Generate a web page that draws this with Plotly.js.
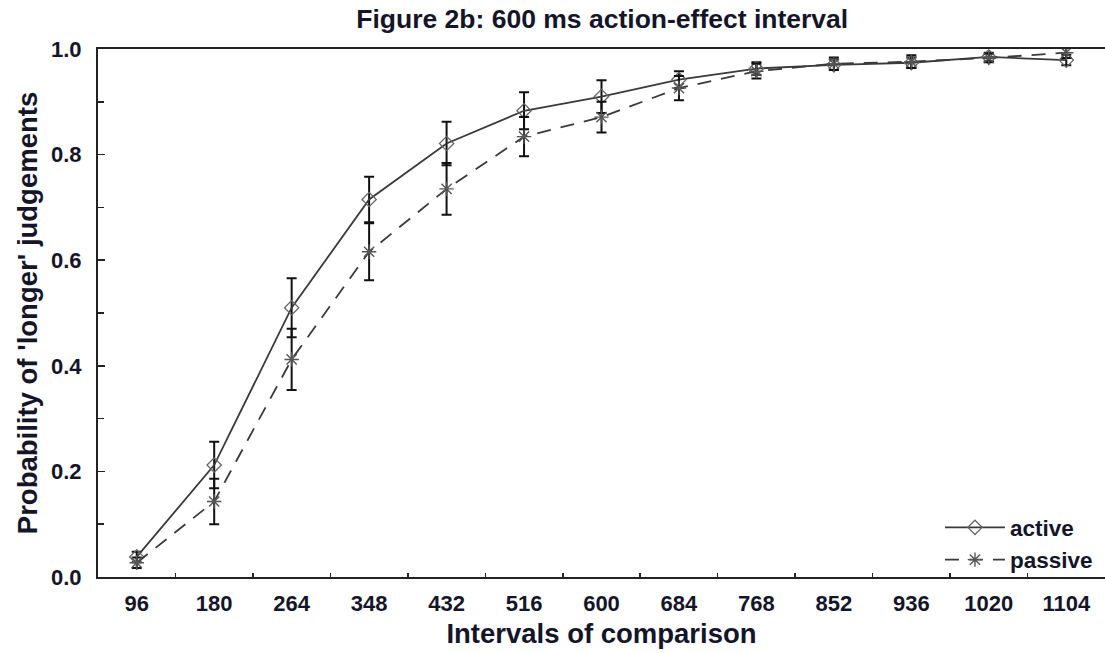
<!DOCTYPE html>
<html>
<head>
<meta charset="utf-8">
<script src="https://cdn.plot.ly/plotly-3.0.1.min.js"></script>
<style>
html, body { margin: 0; padding: 0; overflow: hidden; background: #fff; }
#chart { width: 1105px; height: 653px; }
</style>
</head>
<body>
<div id="chart"></div>
<script>
const intervals = ['96', '180', '264', '348', '432', '516', '600', '684', '768', '852', '936', '1020', '1104'];
const activeMean = [0.038, 0.212, 0.510, 0.715, 0.821, 0.883, 0.910, 0.942, 0.963, 0.970, 0.974, 0.985, 0.979];
const activeErr  = [0.010, 0.044, 0.056, 0.043, 0.041, 0.035, 0.031, 0.016, 0.012, 0.010, 0.010, 0.008, 0.010];
const passiveMean = [0.027, 0.143, 0.412, 0.616, 0.735, 0.834, 0.871, 0.926, 0.958, 0.972, 0.976, 0.983, 0.993];
const passiveErr  = [0.010, 0.043, 0.058, 0.054, 0.049, 0.037, 0.029, 0.023, 0.014, 0.012, 0.012, 0.008, 0.010];

const FONT = 'Liberation Sans, Arial, sans-serif';
const TXT = '#15152a';

const traces = [
  {
    name: 'active', x: intervals, y: activeMean, type: 'scatter', mode: 'lines+markers',
    line: { color: '#3a3a3a', width: 1.8, dash: 'solid' },
    marker: { symbol: 'diamond-open', size: 11, color: '#666', line: { width: 1.3 } },
    error_y: { type: 'data', array: activeErr, visible: true, color: '#111', thickness: 2, width: 5 }
  },
  {
    name: 'passive', x: intervals, y: passiveMean, type: 'scatter', mode: 'lines+markers',
    line: { color: '#3a3a3a', width: 1.8, dash: '14px,10px' },
    marker: { symbol: 'asterisk-open', size: 12, color: '#555', line: { width: 1.4, color: '#555' } },
    error_y: { type: 'data', array: passiveErr, visible: true, color: '#111', thickness: 2, width: 5 }
  }
];

const layout = {
  width: 1105, height: 653,
  margin: { l: 98, r: 0, t: 49, b: 76 },
  paper_bgcolor: '#fff', plot_bgcolor: '#fff',
  font: { family: FONT, color: TXT, size: 22, weight: 'bold' },
  showlegend: true,
  title: {
    text: 'Figure 2b: 600 ms action-effect interval',
    font: { family: FONT, size: 26.5, color: TXT, weight: 'bold' },
    x: 0.545, xanchor: 'center', y: 0.972, yanchor: 'middle', xref: 'container'
  },
  xaxis: {
    type: 'category',
    range: [-0.5, 12.5],
    showline: true, linecolor: '#222', linewidth: 2, mirror: true,
    showgrid: false, zeroline: false,
    ticks: 'inside', tickson: 'boundaries', ticklen: 4, tickwidth: 1.5, tickcolor: '#222',
    ticklabelstandoff: 6,
    tickfont: { family: FONT, size: 22, color: TXT, weight: 'bold' },
    title: { text: 'Intervals of comparison', font: { family: FONT, size: 27.5, color: TXT, weight: 'bold' }, standoff: 8 }
  },
  yaxis: {
    range: [0, 1], dtick: 0.2, tick0: 0, tickformat: '.1f',
    showline: true, linecolor: '#222', linewidth: 2, mirror: false,
    showgrid: false, zeroline: false,
    ticks: 'inside', ticklen: 7, tickwidth: 1.5, tickcolor: '#222',
    ticklabelstandoff: 10,
    minor: { dtick: 0.1, ticks: 'inside', ticklen: 6, tickwidth: 1.5, tickcolor: '#222', showgrid: false },
    tickfont: { family: FONT, size: 22, color: TXT, weight: 'bold' },
    title: { text: "Probability of 'longer' judgements", font: { family: FONT, size: 27.5, color: TXT, weight: 'bold' }, standoff: 5 }
  },
  legend: {
    x: 0.993, xanchor: 'right', y: -0.008, yanchor: 'bottom',
    bgcolor: 'rgba(0,0,0,0)', borderwidth: 0,
    font: { family: FONT, size: 22.5, color: TXT, weight: 'bold' },
    tracegroupgap: 0, itemwidth: 60
  }
};

Plotly.newPlot('chart', traces, layout, { displayModeBar: false, staticPlot: true });
</script>
</body>
</html>
